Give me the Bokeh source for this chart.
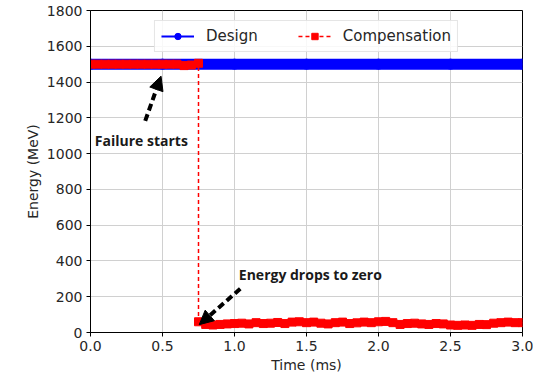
from bokeh.plotting import figure
from bokeh.models import (Arrow, NormalHead, Label, Legend, LegendItem,
                          FixedTicker, PrintfTickFormatter, Range1d)
from bokeh.embed import file_html
from bokeh.resources import INLINE

# ---- data ----
x_ticks = [0.0, 0.5, 1.0, 1.5, 2.0, 2.5, 3.0]
y_ticks = [0, 200, 400, 600, 800, 1000, 1200, 1400, 1600, 1800]

design_time = [0.0, 0.5, 1.0, 1.5, 2.0, 2.5, 3.0]
design_energy = [1500, 1500, 1500, 1500, 1500, 1500, 1500]

comp_time = [0.00, 0.05, 0.10, 0.15, 0.20, 0.25, 0.30, 0.35, 0.40, 0.45,
             0.50, 0.55, 0.60, 0.65, 0.70, 0.75,
             0.75, 0.80, 0.85, 0.90, 0.95, 1.00, 1.05, 1.10, 1.15, 1.20,
             1.25, 1.30, 1.35, 1.40, 1.45, 1.50, 1.55, 1.60, 1.65, 1.70,
             1.75, 1.80, 1.85, 1.90, 1.95, 2.00, 2.05, 2.10, 2.15, 2.20,
             2.25, 2.30, 2.35, 2.40, 2.45, 2.50, 2.55, 2.60, 2.65, 2.70,
             2.75, 2.80, 2.85, 2.90, 2.95, 3.00]
comp_energy = [1500, 1500, 1500, 1500, 1500, 1500, 1500, 1500, 1500, 1500,
               1500, 1500, 1500, 1492, 1495, 1505,
               60, 45, 42, 45, 48, 50, 52, 48, 55, 50,
               52, 56, 50, 58, 60, 55, 58, 52, 48, 55,
               58, 50, 54, 58, 55, 60, 62, 55, 45, 50,
               52, 48, 45, 50, 48, 42, 40, 42, 40, 45,
               44, 52, 55, 58, 55, 55]

FONT = "DejaVu Sans"
TXT = "#262626"

p = figure(frame_width=432, frame_height=322, output_backend="svg",
           toolbar_location=None,
           x_range=Range1d(0, 3), y_range=Range1d(0, 1800),
           min_border_left=90, min_border_right=11, min_border_top=10,
           min_border_bottom=34)

p.xgrid.grid_line_color = "#d0d0d0"
p.ygrid.grid_line_color = "#d0d0d0"
p.outline_line_color = "black"
p.outline_line_alpha = 1

for ax in (p.xaxis[0], p.yaxis[0]):
    ax.axis_line_color = "black"
    ax.major_tick_line_color = "black"
    ax.major_tick_out = 4
    ax.major_tick_in = 0
    ax.minor_tick_line_color = None
    ax.major_label_text_font = FONT
    ax.major_label_text_font_size = "14px"
    ax.major_label_text_color = TXT
    ax.axis_label_text_font = FONT
    ax.axis_label_text_font_size = "14px"
    ax.axis_label_text_font_style = "normal"
    ax.axis_label_text_color = TXT
    ax.major_label_standoff = 4
    ax.axis_label_standoff = 3

p.xaxis.ticker = FixedTicker(ticks=x_ticks)
p.xaxis.formatter = PrintfTickFormatter(format="%.1f")
p.yaxis.ticker = FixedTicker(ticks=y_ticks)
p.xaxis.axis_label = "Time (ms)"
p.yaxis.axis_label = "Energy (MeV)"

# Design
p.line(design_time, design_energy, line_color="#0000ff", line_width=11)
d_line = p.line(design_time, design_energy, line_color="#0000ff", line_width=2)
d_mark = p.scatter(design_time, design_energy, marker="circle", size=10,
                   fill_color="#0000ff", line_color="#0000ff")

# Compensation
c_line = p.line(comp_time, comp_energy, line_color="#ff0000", line_width=1.5,
                line_dash="4 3")
c_mark = p.scatter(comp_time, comp_energy, marker="square", size=8,
                   fill_color="#ff0000", line_color="#ff0000")

legend = Legend(items=[LegendItem(label="Design", renderers=[d_line, d_mark]),
                       LegendItem(label="Compensation", renderers=[c_line, c_mark])],
                location="top_center", orientation="horizontal",
                label_text_font=FONT, label_text_font_size="15px",
                label_text_color=TXT, glyph_width=33, glyph_height=16,
                label_standoff=12, spacing=40, padding=6, margin=10,
                border_line_color="#cccccc", background_fill_alpha=0.85)
p.add_layout(legend)

# annotations
p.add_layout(Arrow(end=NormalHead(size=14, fill_color="black", line_color="black"),
                   x_start=0.38, y_start=1183, x_end=0.49, y_end=1433,
                   line_color="black", line_width=4, line_dash="7 4"))
p.add_layout(Arrow(end=NormalHead(size=14, fill_color="black", line_color="black"),
                   x_start=1.04, y_start=244, x_end=0.755, y_end=44,
                   line_color="black", line_width=4, line_dash="7 4"))
p.add_layout(Label(x=0.03, y=1072, text="Failure starts", text_font="Open Sans",
                   text_font_style="bold", text_font_size="14px",
                   text_color="#1a1a1a", text_baseline="middle"))
p.add_layout(Label(x=1.03, y=325, text="Energy drops to zero", text_font="Open Sans",
                   text_font_style="bold", text_font_size="14px",
                   text_color="#1a1a1a", text_baseline="middle"))

open("out.html", "w").write(file_html(p, INLINE))
